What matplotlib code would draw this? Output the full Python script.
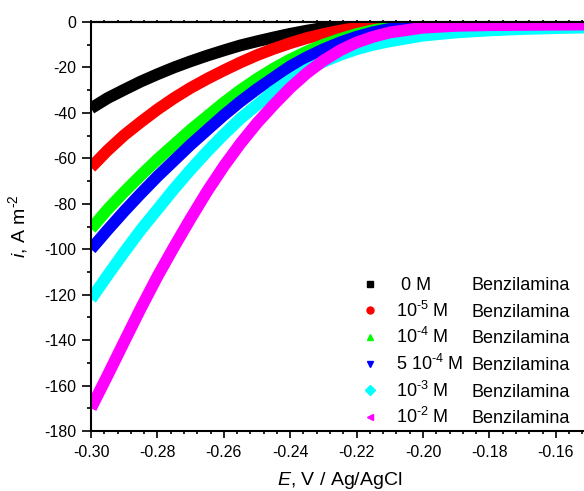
import matplotlib
matplotlib.use('Agg')
import matplotlib.pyplot as plt
from matplotlib.ticker import MultipleLocator, FormatStrFormatter
from matplotlib.lines import Line2D

plt.rcParams['font.family'] = ['Liberation Sans', 'DejaVu Sans']
plt.rcParams['mathtext.fontset'] = 'custom'
plt.rcParams['mathtext.rm'] = 'Liberation Sans'
plt.rcParams['mathtext.it'] = 'Liberation Sans:italic'
plt.rcParams['axes.unicode_minus'] = False

# potential (V vs Ag/AgCl) and current density (A m-2) for each benzylamine concentration
E = [-0.300, -0.295, -0.290, -0.285, -0.280, -0.275, -0.270, -0.265, -0.260,
     -0.255, -0.250, -0.245, -0.240, -0.235, -0.230, -0.225, -0.220, -0.215,
     -0.210, -0.200, -0.190, -0.180, -0.170, -0.160, -0.150]

i_0M = [-38, -33.5, -29.8, -26.2, -23, -20, -17.3, -14.8, -12.5, -10.3, -8.5, -6.8,
        -5.2, -3.8, -2.6, -1.7, -1.0, -0.5, -0.3, -0.1, 0, 0, 0, 0, 0]
i_1e5 = [-64, -56.5, -49.8, -44, -38.5, -33.5, -29, -25, -21.3, -17.8, -14.6, -11.8,
         -9.3, -7.1, -5.3, -3.8, -2.6, -1.7, -1.0, -0.4, -0.1, 0, 0, 0, 0]
i_1e4 = [-91, -82.5, -74.8, -67.5, -60.5, -54, -47.5, -41.5, -35.5, -30, -25, -20.5,
         -16.5, -13, -10, -7.5, -5.3, -3.6, -2.4, -1, -0.4, -0.2, -0.1, 0, 0]
i_5e4 = [-100, -91.5, -83.3, -75.5, -68, -61, -54, -47.5, -41, -35, -29.5, -24.5,
         -19.5, -15.5, -12, -9, -6.5, -4.5, -3, -1.2, -0.5, -0.2, -0.1, 0, 0]
i_1e3 = [-122, -111.5, -101.3, -91.5, -82.5, -73.5, -65, -57, -49.5, -42.5, -36.5, -30.5,
         -25.5, -21, -17.5, -14.5, -12, -10, -8.5, -6, -4.6, -3.7, -3.1, -2.7, -2.4]
i_1e2 = [-170, -155.5, -140.7, -126, -112, -99, -86.5, -74.5, -63.5, -53.5, -44.5, -36.5,
         -29, -22.5, -17, -12.5, -9, -6.5, -4.6, -2.5, -1.7, -1.4, -1.3, -1.2, -1.1]

currents = [i_0M, i_1e5, i_1e4, i_5e4, i_1e3, i_1e2]
colors = ['black', '#ff0000', '#00ff00', '#0000ff', '#00ffff', '#ff00ff']
markers = ['s', 'o', '^', 'v', 'D', '<']
conc_labels = [' 0 M', r'10$^{\text{-5}}$ M', r'10$^{\text{-4}}$ M', r'5 10$^{\text{-4}}$ M',
               r'10$^{\text{-3}}$ M', r'10$^{\text{-2}}$ M']

fig = plt.figure(figsize=(5.84, 4.91), dpi=100)
ax = fig.add_axes([91 / 584, 60 / 491, 498 / 584, 409 / 491])

for vals, c in zip(currents, colors):
    ax.plot(E, vals, color=c, lw=8.5, solid_joinstyle='round', solid_capstyle='butt')

ax.set_xlim(-0.30, -0.15)
ax.set_ylim(-180, 0)
ax.xaxis.set_major_locator(MultipleLocator(0.02))
ax.xaxis.set_minor_locator(MultipleLocator(0.004))
ax.xaxis.set_major_formatter(FormatStrFormatter('%.2f'))
ax.yaxis.set_major_locator(MultipleLocator(20))
ax.yaxis.set_minor_locator(MultipleLocator(10))

for s in ['left', 'bottom', 'top']:
    ax.spines[s].set_linewidth(1.5)
ax.spines['right'].set_visible(False)

ax.tick_params(axis='y', which='major', length=6.5, width=1.2, pad=4, labelsize=11.5)
ax.tick_params(axis='y', which='minor', length=3, width=1.2)
ax.tick_params(axis='x', which='major', length=5, width=1.2, pad=5, labelsize=11.5)
ax.tick_params(axis='x', which='minor', length=2.5, width=1.2)

top = ax.secondary_xaxis('top')
top.xaxis.set_major_locator(MultipleLocator(0.02))
top.xaxis.set_minor_locator(MultipleLocator(0.004))
top.tick_params(which='both', length=1.5, width=1.2, labeltop=False)
top.spines['top'].set_linewidth(1.5)

ax.set_xlabel(r'$E$, V / Ag/AgCl', fontsize=14, labelpad=7)
ax.set_ylabel(r'$i$, A m$^{\text{-2}}$', fontsize=14, labelpad=10)

handles = [Line2D([], [], ls='none', marker=m, color=c, markersize=5)
           for m, c in zip(markers, colors)]
leg = ax.legend(handles, conc_labels, loc='upper left', bbox_to_anchor=(0.542, 0.376),
                frameon=False, fontsize=13, handlelength=1.0, handletextpad=0.95,
                labelspacing=0.36, borderpad=0, borderaxespad=0)

# second column of the legend, lined up on each label's baseline
fig.canvas.draw()
inv = ax.transAxes.inverted()
for t in leg.get_texts():
    y_disp = t.get_transform().transform(t.get_position())[1]
    y_ax = inv.transform((0, y_disp))[1]
    ax.text(0.7645, y_ax, 'Benzilamina', transform=ax.transAxes,
            fontsize=13, va='baseline', ha='left')

fig.savefig('out.png', dpi=100)
